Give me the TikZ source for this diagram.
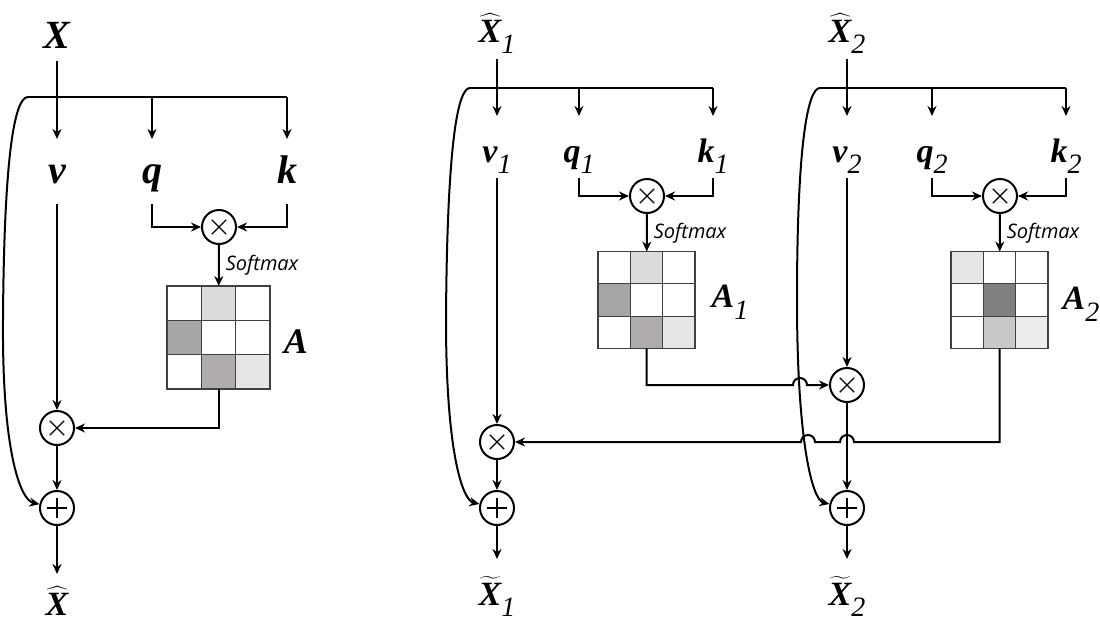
\documentclass[tikz,border=0pt]{standalone}
\usepackage{fontspec}
\setmainfont{Liberation Serif}
\newfontfamily\varfont{Liberation Serif}[UprightFont={* Bold Italic}]
\newfontfamily\subfont{Liberation Serif}[UprightFont={* Italic}]
\newfontfamily\softfont{Open Sans}
\usetikzlibrary{arrows.meta,positioning}
\definecolor{cell-a}{HTML}{DCDCDC}
\definecolor{cell-b}{HTML}{A6A6A6}
\definecolor{cell-c}{HTML}{B0ACAC}
\definecolor{cell-d}{HTML}{E6E6E6}
\definecolor{cell-e}{HTML}{808080}
\definecolor{cell-f}{HTML}{C8C8C8}
\definecolor{cell-g}{HTML}{ECECEC}
\definecolor{grid-gray}{HTML}{404040}

\newcommand{\bi}[1]{{\varfont #1}}
\newcommand{\lsub}[1]{\raisebox{-0.35em}{\fontsize{14}{16}\selectfont\subfont #1}}
\newcommand{\hatX}{$\widehat{\hbox{\bi{X}}}$}
\newcommand{\tilX}{$\widetilde{\hbox{\bi{X}}}$}
% cells of an attention map: node, side (px), nine colours
\newcommand{\attcells}[3]{%
  \begin{scope}[shift={(#1.north west)}]
    \foreach \cl [count=\n from 0] in {#3} {
      \pgfmathtruncatemacro\row{\n/3}
      \pgfmathtruncatemacro\col{\n-3*\row}
      \fill[\cl] (\col*#2/3,\row*#2/3) rectangle ++(#2/3,#2/3);
    }
    \foreach \k in {1,2} {
      \draw[cellline] (\k*#2/3,0) -- ++(0,#2);
      \draw[cellline] (0,\k*#2/3) -- ++(#2,0);
    }
    \draw[cellline] (0,0) rectangle (#2,#2);
  \end{scope}}

\begin{document}
\begin{tikzpicture}[
  x=0.5pt, y=-0.5pt, line width=1pt,
  >={Stealth[length=5pt,width=4.5pt]},
  inlab/.style={inner sep=0pt, text depth=8pt, text height=9pt},
  outlab/.style={inner sep=0pt, text depth=0pt, text height=22.5pt},
  var/.style={inner sep=0pt, minimum height=30pt, text depth=0pt, text height=15pt},
  bigfont/.style={font=\fontsize{20}{23}\selectfont},
  midfont/.style={font=\fontsize{17}{20}\selectfont},
  mulop/.style={circle, draw, minimum size=17pt, inner sep=0pt,
    path picture={\draw[line width=0.6pt] (path picture bounding box.center)
      ++(-3.6pt,-3.6pt) -- ++(7.2pt,7.2pt) ++(-7.2pt,0pt) -- ++(7.2pt,-7.2pt);}},
  addop/.style={circle, draw, minimum size=17pt, inner sep=0pt,
    path picture={\draw[line width=0.6pt] (path picture bounding box.center)
      ++(-5pt,0pt) -- ++(10pt,0pt) ++(-5pt,-5pt) -- ++(0pt,10pt);}},
  attmap/.style={rectangle, inner sep=0pt, outer sep=0pt},
  cellline/.style={draw=grid-gray, line width=0.6pt},
  soft/.style={font=\softfont\itshape\fontsize{10}{12}\selectfont, inner sep=3pt, right},
]
\useasboundingbox (0,0) rectangle (1100,633);

% single block
\node[inlab, bigfont, text height=13pt, text depth=6pt] (X) at (57,41) {\bi{X}};
\node[var, bigfont, minimum height=31.5pt, text height=11.5pt] (v) at (57,171.5) {\bi{v}};
\node[var, bigfont, minimum height=31.5pt, text height=11.5pt] (q) at (152,171.5) {\bi{q}};
\node[var, bigfont, minimum height=31.5pt, text height=11.5pt] (k) at (287,171.5) {\bi{k}};
\coordinate (b0) at (28,97);
\node[mulop] (m0) at (219,227) {};
\node[attmap, minimum size=51.5pt] (A0) at (218.5,337.5) {};
\node[font=\fontsize{18}{21}\selectfont] (A0lab) at (296,342) {\bi{A}};
\node[mulop] (mv0) at (57,428) {};
\node[addop] (add0) at (57,508) {};
\node[outlab, font=\fontsize{17}{20}\selectfont, text height=20pt] (Xo) at (57,595) {\hatX};
\attcells{A0}{103}{white,cell-a,white,cell-b,white,white,white,cell-c,cell-d}

\draw[->] (X) -- (v);
\draw (b0) -- (k |- b0);
\draw[->] (q |- b0) -- (q);
\draw[->] (k |- b0) -- (k);
\draw[->] (q) |- (m0);
\draw[->] (k) |- (m0);
\draw[->] (m0) -- node[soft] {Softmax} (A0);
\draw[->] (A0) |- (mv0);
\draw[->] (v) -- (mv0);
\draw[->] (mv0) -- (add0);
\draw[->] (add0) -- (Xo);
\draw[->] (b0) .. controls (14,97) and (4,160) .. (3,320) .. controls (2,450) and (20,500) .. (add0);

% first stacked block
\node[inlab, midfont] (X1) at (497,41) {\hatX\lsub{1}};
\node[var, midfont] (v1) at (497,147) {\bi{v}\lsub{1}};
\node[var, midfont] (q1) at (579,147) {\bi{q}\lsub{1}};
\node[var, midfont] (k1) at (713,147) {\bi{k}\lsub{1}};
\coordinate (b1) at (470,88);
\node[mulop] (m1) at (647,196) {};
\node[attmap, minimum size=48.5pt] (A1) at (646.5,300) {};
\node[font=\fontsize{17}{20}\selectfont] (A1lab) at (730,302) {\bi{A}\lsub{1}};
\node[mulop] (mv1) at (497,442) {};
\node[addop] (add1) at (497,508) {};
\node[outlab, midfont] (Y1) at (497,582.5) {\tilX\lsub{1}};
\attcells{A1}{97}{white,cell-a,white,cell-b,white,white,white,cell-c,cell-d}

% second stacked block
\node[inlab, midfont] (X2) at (847,41) {\hatX\lsub{2}};
\node[var, midfont] (v2) at (847,147) {\bi{v}\lsub{2}};
\node[var, midfont] (q2) at (932,147) {\bi{q}\lsub{2}};
\node[var, midfont] (k2) at (1066,147) {\bi{k}\lsub{2}};
\coordinate (b2) at (820,88);
\node[mulop] (m2) at (1000,196) {};
\node[attmap, minimum size=48.5pt] (A2) at (999.5,300) {};
\node[font=\fontsize{17}{20}\selectfont] (A2lab) at (1081,304) {\bi{A}\lsub{2}};
\node[mulop] (mv2) at (847,385) {};
\node[addop] (add2) at (847,508) {};
\node[outlab, midfont] (Y2) at (847,582.5) {\tilX\lsub{2}};
\attcells{A2}{97}{cell-d,white,white,white,cell-e,white,white,cell-f,cell-g}

\draw[->] (X1) -- (v1);
\draw (b1) -- (k1 |- b1);
\draw[->] (q1 |- b1) -- (q1);
\draw[->] (k1 |- b1) -- (k1);
\draw[->] (q1) |- (m1);
\draw[->] (k1) |- (m1);
\draw[->] (m1) -- node[soft] {Softmax} (A1);
\draw[->] (v1) -- (mv1);
\draw[->] (mv1) -- (add1);
\draw[->] (add1) -- (Y1);
\draw[->] (b1) .. controls (457,88) and (447,150) .. (446,320) .. controls (446,450) and (462,500) .. (add1);

\draw[->] (X2) -- (v2);
\draw (b2) -- (k2 |- b2);
\draw[->] (q2 |- b2) -- (q2);
\draw[->] (k2 |- b2) -- (k2);
\draw[->] (q2) |- (m2);
\draw[->] (k2) |- (m2);
\draw[->] (m2) -- node[soft] {Softmax} (A2);
\draw[->] (v2) -- (mv2);
\draw[->] (mv2) -- (add2);
\draw[->] (add2) -- (Y2);
\draw[->] (b2) .. controls (807,88) and (797,150) .. (797,300) .. controls (797,440) and (812,500) .. (add2);

% maps crossing over to the other block
\draw[->] (A1.south) -- (A1.south |- mv2) -- (793,385)
  arc[start angle=180, end angle=0, radius=3.5pt] -- (mv2);
\draw[->] (A2.south) -- (A2.south |- mv1) -- (854,442)
  arc[start angle=0, end angle=180, radius=3.5pt] -- (815,442)
  arc[start angle=0, end angle=180, radius=3.5pt] -- (mv1);
\end{tikzpicture}
\end{document}
